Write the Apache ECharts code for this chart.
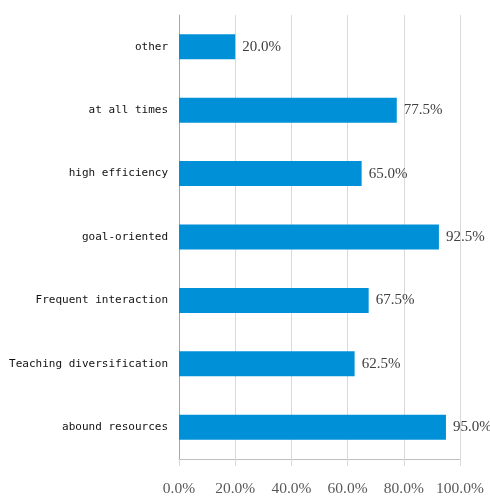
<!DOCTYPE html>
<html>
<head>
<meta charset="utf-8">
<script src="https://cdn.jsdelivr.net/npm/echarts@6/dist/echarts.min.js"></script>
<style>
html,body{margin:0;padding:0;background:#fff;}
#main{width:490px;height:497px;}
</style>
</head>
<body>
<div id="main"></div>
<script>
var categories = ["other", "at all times", "high efficiency", "goal-oriented", "Frequent interaction", "Teaching diversification", "abound resources"];
var values = [20.0, 77.5, 65.0, 92.5, 67.5, 62.5, 95.0];
var xTicks = [0, 20, 40, 60, 80, 100];

var chart = echarts.init(document.getElementById('main'), null, {renderer: 'canvas'});
chart.setOption({
  animation: false,
  backgroundColor: '#ffffff',
  grid: {left: 179, right: 30, top: 15, bottom: 38, containLabel: false, outerBoundsMode: 'none'},
  xAxis: {
    type: 'value',
    min: xTicks[0],
    max: xTicks[xTicks.length - 1],
    interval: 20,
    axisLine: {show: true, lineStyle: {color: '#bfbfbf', width: 1}},
    axisTick: {show: true, length: 7, lineStyle: {color: '#d9d9d9'}},
    splitLine: {show: true, lineStyle: {color: '#d9d9d9', width: 1}},
    axisLabel: {
      margin: 22,
      fontFamily: 'Liberation Serif, serif',
      fontSize: 15.5,
      color: '#595959',
      formatter: function (v) { return v.toFixed(1) + '%'; }
    }
  },
  yAxis: {
    type: 'category',
    data: categories,
    inverse: true,
    axisLine: {show: true, lineStyle: {color: '#a6a6a6', width: 1}},
    axisTick: {show: false},
    splitLine: {show: false},
    axisLabel: {
      margin: 11,
      fontFamily: 'DejaVu Sans Mono, monospace',
      fontSize: 11,
      color: '#111111'
    }
  },
  series: [{
    type: 'bar',
    data: values,
    barWidth: 25,
    itemStyle: {color: '#0090D8'},
    label: {
      show: true,
      position: 'right',
      distance: 7,
      fontFamily: 'Liberation Serif, serif',
      fontSize: 15,
      color: '#404040',
      formatter: function (p) { return p.value.toFixed(1) + '%'; }
    }
  }]
});
</script>
</body>
</html>
